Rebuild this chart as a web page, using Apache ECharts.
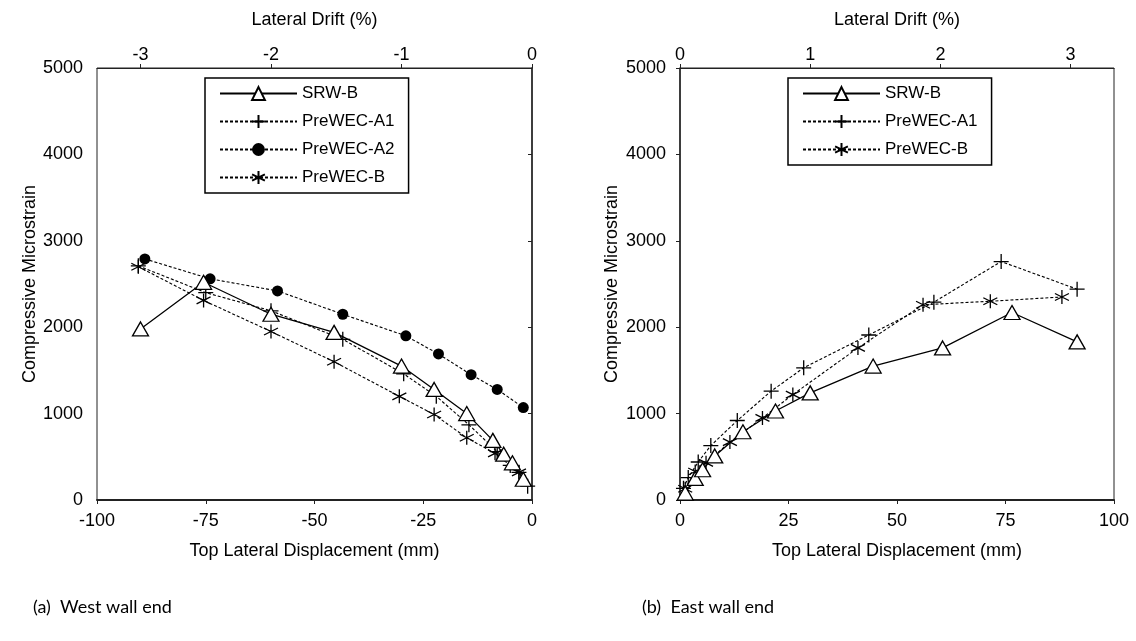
<!DOCTYPE html>
<html>
<head>
<meta charset="utf-8">
<script src="https://cdn.jsdelivr.net/npm/echarts@6/dist/echarts.min.js"></script>
<style>
  html, body { margin: 0; padding: 0; background: #fff; }
  #main { width: 1136px; height: 641px; }
</style>
</head>
<body>
<div id="main"></div>
<script>
// west wall end (a)
var westSrwX = [-90, -75.5, -60, -45.5, -30, -22.5, -15, -9, -6.5, -4.5, -2];
var westSrwY = [1980, 2520, 2150, 1940, 1550, 1280, 1000, 690, 530, 430, 240];
var westA1X = [-90.5, -75, -60, -43.5, -29.5, -22, -14.5, -8, -5, -3, -1];
var westA1Y = [2710, 2400, 2190, 1860, 1460, 1200, 870, 560, 400, 320, 160];
var westA2X = [-89, -74, -58.5, -43.5, -29, -21.5, -14, -8, -2];
var westA2Y = [2790, 2560, 2420, 2150, 1900, 1690, 1450, 1280, 1070];
var westBX = [-90.5, -75.5, -60, -45.5, -30.5, -22.5, -15, -8.5, -3];
var westBY = [2700, 2310, 1950, 1600, 1200, 990, 720, 540, 320];

// east wall end (b)
var eastSrwX = [1.2, 3.5, 5.2, 8, 14.5, 22, 30, 44.5, 60.5, 76.5, 91.5];
var eastSrwY = [80, 250, 350, 510, 790, 1030, 1240, 1550, 1760, 2170, 1830];
var eastA1X = [0.8, 1.9, 4.2, 7.1, 13.2, 21, 28.5, 43.5, 58.5, 74, 91.5];
var eastA1Y = [135, 260, 440, 630, 920, 1260, 1530, 1910, 2290, 2760, 2440];
var eastBX = [1.2, 3.5, 6, 11.5, 19, 26, 41, 56, 71.5, 88];
var eastBY = [130, 330, 430, 670, 950, 1220, 1760, 2260, 2300, 2350];

var driftTicksWest = [-90, -60, -30, 0];
var driftTicksEast = [0, 30, 60, 90];

function pairs(xs, ys) {
    return xs.map(function (x, i) { return [x, ys[i]]; });
}

var asterisk = 'path://M0,-10L0,10M-8.66,-5L8.66,5M-8.66,5L8.66,-5';
var plus = 'path://M0,-10L0,10M-10,0L10,0';
var font = "'Liberation Sans', Arial, sans-serif";

var styles = {
    'SRW-B': { symbol: 'triangle', symbolSize: [16, 14], itemStyle: { color: '#fff', borderColor: '#000', borderWidth: 1.3 }, lineStyle: { color: '#000', width: 1.3, type: 'solid' } },
    'PreWEC-A1': { symbol: plus, symbolSize: 15, itemStyle: { color: '#000', borderColor: '#000', borderWidth: 1.3 }, lineStyle: { color: '#000', width: 1.1, type: [3, 2] } },
    'PreWEC-A2': { symbol: 'circle', symbolSize: 11, itemStyle: { color: '#000', borderColor: '#000', borderWidth: 0 }, lineStyle: { color: '#000', width: 1.1, type: [3, 2] } },
    'PreWEC-B': { symbol: asterisk, symbolSize: 14, itemStyle: { color: '#000', borderColor: '#000', borderWidth: 1.3 }, lineStyle: { color: '#000', width: 1.1, type: [3, 2] } }
};

function mkSeries(name, data, idx) {
    var s = styles[name];
    return {
        name: name,
        type: 'line',
        xAxisIndex: idx * 2,
        yAxisIndex: idx,
        data: data,
        symbol: s.symbol,
        symbolSize: s.symbolSize,
        itemStyle: s.itemStyle,
        lineStyle: s.lineStyle,
        showAllSymbol: true,
        animation: false,
        z: name === 'SRW-B' ? 3 : 2
    };
}

function plain(v) { return String(v); }

function bottomAxis(grid, min, max) {
    return {
        type: 'value', gridIndex: grid, position: 'bottom',
        min: min, max: max, interval: 25,
        name: 'Top Lateral Displacement (mm)', nameLocation: 'middle', nameGap: 42,
        nameTextStyle: { fontFamily: font, fontSize: 18, color: '#000' },
        axisLine: { lineStyle: { color: '#222', width: 2 } },
        axisTick: { show: true, length: 4, lineStyle: { color: '#222' } },
        axisLabel: { fontFamily: font, fontSize: 18, color: '#000', margin: 12, formatter: plain },
        splitLine: { show: false }
    };
}

function topAxis(grid, min, max, ticks) {
    return {
        type: 'value', gridIndex: grid, position: 'top',
        min: min, max: max,
        name: 'Lateral Drift (%)', nameLocation: 'middle', nameGap: 39,
        nameTextStyle: { fontFamily: font, fontSize: 18, color: '#000' },
        axisLine: { onZero: false, lineStyle: { color: '#222', width: 1.2 } },
        axisTick: { show: true, length: 4, customValues: ticks, lineStyle: { color: '#222' } },
        axisLabel: {
            fontFamily: font, fontSize: 18, color: '#000', margin: 4,
            customValues: ticks,
            formatter: function (v) { return String(Math.round(v / 30)); }
        },
        splitLine: { show: false }
    };
}

function leftAxis(grid, gap) {
    return {
        type: 'value', gridIndex: grid,
        min: 0, max: 5000, interval: 1000,
        name: 'Compressive Microstrain', nameLocation: 'middle', nameGap: gap,
        nameTextStyle: { fontFamily: font, fontSize: 18, color: '#000' },
        axisLine: { show: true, lineStyle: { color: '#222', width: 1.5 } },
        axisTick: { show: true, length: 4, lineStyle: { color: '#222' } },
        axisLabel: { fontFamily: font, fontSize: 18, color: '#000', margin: 14, formatter: plain },
        splitLine: { show: false }
    };
}

function legend(left, names) {
    return {
        left: left, top: 78, orient: 'vertical',
        data: names,
        itemWidth: 77, itemHeight: 16, itemGap: 11, itemTextGap: 9,
        padding: [7, 14, 7, 14],
        borderColor: '#000', borderWidth: 1.5,
        textStyle: { fontFamily: font, fontSize: 17, color: '#000' },
        selectedMode: false
    };
}

var myChart = echarts.init(document.getElementById('main'));
var option = {
    backgroundColor: '#fff',
    animation: false,
    grid: [
        { left: 97, top: 68, width: 435, height: 432, show: true, borderColor: '#222', borderWidth: 1, backgroundColor: 'transparent' },
        { left: 680, top: 68, width: 434, height: 432, show: true, borderColor: '#222', borderWidth: 1, backgroundColor: 'transparent' }
    ],
    xAxis: [
        bottomAxis(0, -100, 0),
        topAxis(0, -100, 0, driftTicksWest),
        bottomAxis(1, 0, 100),
        topAxis(1, 0, 100, driftTicksEast)
    ],
    yAxis: [leftAxis(0, 55), leftAxis(1, 59)],
    legend: [
        legend(205, ['SRW-B', 'PreWEC-A1', 'PreWEC-A2', 'PreWEC-B']),
        legend(788, ['SRW-B', 'PreWEC-A1', 'PreWEC-B'])
    ],
    series: [
        mkSeries('PreWEC-B', pairs(westBX, westBY), 0),
        mkSeries('PreWEC-A2', pairs(westA2X, westA2Y), 0),
        mkSeries('PreWEC-A1', pairs(westA1X, westA1Y), 0),
        mkSeries('SRW-B', pairs(westSrwX, westSrwY), 0),
        mkSeries('PreWEC-B', pairs(eastBX, eastBY), 1),
        mkSeries('PreWEC-A1', pairs(eastA1X, eastA1Y), 1),
        mkSeries('SRW-B', pairs(eastSrwX, eastSrwY), 1)
    ],
    graphic: [
        { type: 'text', left: 33, top: 598, style: { text: '(a)  West wall end', fontFamily: "Lato, 'Open Sans', sans-serif", fontSize: 18, fill: '#000' } },
        { type: 'text', left: 642, top: 598, style: { text: '(b)  East wall end', fontFamily: "Lato, 'Open Sans', sans-serif", fontSize: 18, fill: '#000' } }
    ]
};
myChart.setOption(option);
</script>
</body>
</html>
